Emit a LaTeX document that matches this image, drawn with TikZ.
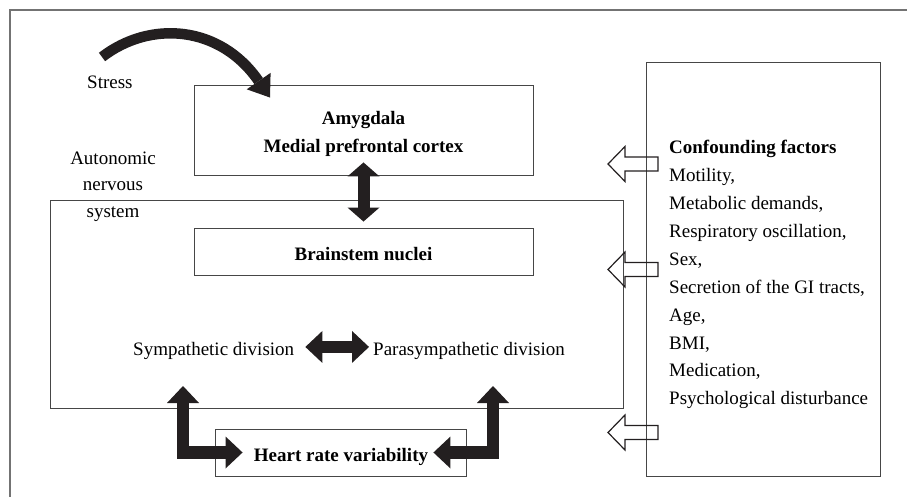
\documentclass[tikz,border=0pt]{standalone}
\usepackage{fontspec}
\setmainfont{Liberation Serif}
\usetikzlibrary{arrows.meta}
\definecolor{ink}{RGB}{35,31,32}
\definecolor{boxline}{RGB}{70,70,70}
\definecolor{frameline}{RGB}{115,115,115}
\tikzset{
  bighead/.tip={Triangle[width=32pt,length=17pt,line width=0pt]},
  midhead/.tip={Triangle[width=32pt,length=14pt,line width=0pt]},
  curvehead/.tip={Triangle[width=29pt,length=20pt,line width=0pt]}
}
\begin{document}
\begin{tikzpicture}[x=1pt,y=-1pt,
  box/.style={draw=boxline, line width=0.9pt, rectangle, inner sep=0pt},
  txt/.style={inner sep=0pt, font=\fontsize{19}{27.4}\selectfont},
  txtb/.style={inner sep=0pt, font=\fontsize{19}{27.4}\selectfont\bfseries},
  fat/.style={draw=ink, line width=12.5pt, line join=miter},
  hollow/.style={draw=ink, line width=1.2pt, line join=miter}
]
\useasboundingbox (0,0) rectangle (907,497);
\draw[frameline, line width=1.2pt] (907,10) -- (10,10) -- (10,497);

% boxes
\node[box, minimum width=573pt, minimum height=208pt] (ans) at (336.5,304) {};
\node[box, minimum width=339pt, minimum height=90pt] (amy) at (363.5,130) {};
\node[box, minimum width=339pt, minimum height=47pt] (brain) at (363.5,251.5) {};
\node[box, minimum width=251pt, minimum height=47pt] (hrv) at (340.5,452.5) {};
\node[box, minimum width=234pt, minimum height=414pt] (conf) at (763,269) {};

% texts
\node[txtb, anchor=north, align=center] (amyt) at (363.5,111.5) {Amygdala\\Medial prefrontal cortex};
\node[txtb, anchor=base] (braint) at (363.5,260) {Brainstem nuclei};
\node[txtb, anchor=base] (hrvt) at (341,461.7) {Heart rate variability};
\node[txt, anchor=base west] (stress) at (87,89) {Stress};
\node[txt, anchor=north, align=center, font=\fontsize{19}{26.7}\selectfont] (ansl) at (113,151.4) {Autonomic\\nervous\\system};
\node[txt, anchor=base west] (symp) at (133,355) {Sympathetic division};
\node[txt, anchor=base west] (para) at (373,355) {Parasympathetic division};
\node[txt, anchor=north west, align=left, font=\fontsize{19}{27.86}\selectfont] (conft) at (669,140.4)
  {\textbf{Confounding factors}\\Motility,\\Metabolic demands,\\Respiratory oscillation,\\Sex,\\Secretion of the GI tracts,\\Age,\\BMI,\\Medication,\\Psychological disturbance};

% stress arrow
\coordinate (stressstart) at (102,57);
\draw[fat, line width=10.5pt, -{curvehead}]
  (stressstart) .. controls (150,20) and (220,25) .. ([xshift=-93.5pt,yshift=-13pt]amy.north);

% vertical double arrow
\draw[fat, line width=12pt, {midhead}-{midhead}]
  ([yshift=13pt]amy.south) -- ([yshift=6pt]brain.north);

% horizontal double arrow
\draw[fat, {bighead}-{bighead}] ([xshift=11pt,yshift=3.5pt]symp.east) -- ([xshift=-4pt,yshift=3.5pt]para.west);

% elbow arrows
\coordinate (symup) at (183,386);
\coordinate (paraup) at (493,386);
\draw[fat, {bighead}-{bighead}] (symup) |- ([xshift=28pt]hrv.west);
\draw[fat, {bighead}-{bighead}] (paraup) |- ([xshift=-33pt]hrv.east);

% hollow arrows from confounding factors
\foreach \yy in {164,269.5,432.5}{
  \draw[hollow] (658,\yy-7) -- (625,\yy-7) -- (625,\yy-17.5) -- (608,\yy) -- (625,\yy+17.5) -- (625,\yy+7) -- (658,\yy+7) -- cycle;
}
\end{tikzpicture}
\end{document}
